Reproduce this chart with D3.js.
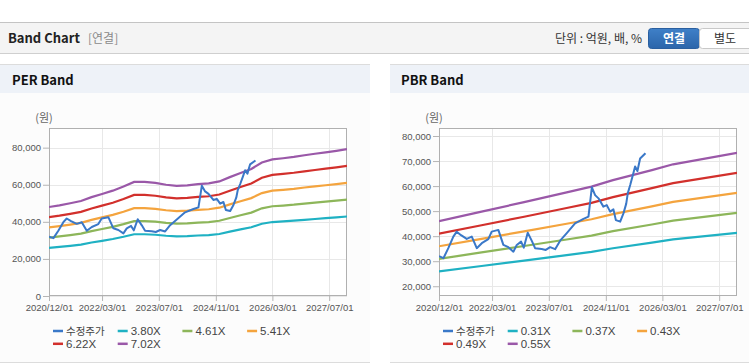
<!DOCTYPE html>
<html>
<head>
<meta charset="utf-8">
<script src="https://cdn.jsdelivr.net/npm/d3@7/dist/d3.min.js"></script>
<style>
  body { margin: 0; background: #fff; }
  svg { display: block; font-family: "Noto Sans CJK KR", "Noto Sans", sans-serif; }
</style>
</head>
<body>
<svg id="chart"></svg>
<script>
// ---- 데이터 ----
const xTickLabels = ["2020/12/01", "2022/03/01", "2023/07/01", "2024/11/01", "2026/03/01", "2027/07/01"];

// PER 밴드 (분기)
const perDates = ["2020-12-01","2021-03-01","2021-06-01","2021-09-01","2021-12-01","2022-03-01","2022-06-01","2022-09-01",
  "2022-12-01","2023-03-01","2023-06-01","2023-09-01","2023-12-01","2024-03-01","2024-06-01","2024-09-01","2024-12-01",
  "2025-03-01","2025-06-01","2025-09-01","2025-12-01","2026-03-01","2026-06-01","2026-09-01","2026-12-01","2027-03-01",
  "2027-06-01","2027-09-01","2027-12-01"];
const per380 = [25980,26470,27070,27710,28850,29770,30750,31940,33290,33290,33020,32480,32150,32320,32640,32860,33450,
  34700,35890,37080,38970,39890,40220,40600,41080,41520,41950,42380,42870];
const per461 = [31520,32110,32840,33620,35000,36120,37300,38750,40390,40390,40060,39400,39010,39200,39600,39860,40580,
  42090,43540,44980,47280,48400,48790,49250,49840,50370,50890,51420,52010];
const per541 = [36990,37690,38530,39460,41080,42390,43780,45470,47400,47400,47010,46240,45780,46010,46470,46780,47630,
  49400,51100,52790,55490,56800,57260,57800,58500,59110,59730,60350,61040];
const per622 = [42530,43330,44300,45360,47220,48730,50320,52270,54490,54490,54050,53160,52630,52890,53430,53780,54750,
  56790,58740,60690,63790,65300,65830,66450,67250,67960,68670,69370,70170];
const per702 = [48000,48900,50000,51200,53300,55000,56800,59000,61500,61500,61000,60000,59400,59700,60300,60700,61800,
  64100,66300,68500,72000,73700,74300,75000,75900,76700,77500,78300,79200];
const perNames = ["3.80X", "4.61X", "5.41X", "6.22X", "7.02X"];
const perYTicks = [0, 20000, 40000, 60000, 80000];

// PBR 밴드
const pbrDates = ["2020-12-01","2021-12-01","2022-12-01","2023-12-01","2024-07-01","2025-01-01","2025-12-01","2026-06-01","2027-12-01"];
const pbr031 = [25930,28070,30210,32410,33700,35170,37420,38720,41310];
const pbr037 = [30940,33500,36060,38680,40230,41980,44670,46210,49310];
const pbr043 = [35960,38930,41900,44950,46750,48780,51910,53710,57310];
const pbr049 = [40980,44370,47750,51230,53280,55590,59160,61200,65300];
const pbr055 = [46000,49800,53600,57500,59800,62400,66400,68700,73300];
const pbrNames = ["0.31X", "0.37X", "0.43X", "0.49X", "0.55X"];
const pbrYTicks = [20000, 30000, 40000, 50000, 60000, 70000, 80000];

// 수정주가
const priceDates = ["2020-12-01","2021-01-08","2021-02-19","2021-04-03","2021-05-02","2021-06-08","2021-07-27","2021-09-08",
  "2021-10-21","2021-12-03","2022-01-28","2022-02-26","2022-04-24","2022-06-06","2022-07-19","2022-08-31","2022-09-29",
  "2022-11-05","2022-11-28","2023-01-01","2023-02-05","2023-03-05","2023-05-01","2023-06-05","2023-07-12","2023-08-24",
  "2023-10-06","2023-12-02","2024-02-11","2024-04-23","2024-06-05","2024-07-04","2024-08-01","2024-08-30","2024-10-11",
  "2024-11-09","2024-12-08","2025-01-05","2025-01-26","2025-03-04","2025-04-01","2025-04-25","2025-05-08","2025-05-29",
  "2025-06-21","2025-07-10","2025-07-30","2025-08-22","2025-10-07"];
const priceValues = [32000,31200,35200,39800,41800,40400,38900,39800,35200,37200,38800,41800,42500,36500,35600,33800,36500,
  37800,35400,41400,38100,35200,34900,34500,35600,34800,38200,41200,45100,46900,47800,59500,56400,55100,51800,52400,49800,
  50700,46400,45800,49100,53000,57100,60400,64400,67800,66000,71000,73100];

const bandColors = ["#1fb1c3", "#8db65a", "#f4a43e", "#d2302c", "#9a58a8"];
const priceColor = "#3a78c8";

// ---- 레이아웃 ----
const width = 749, height = 364;
const parse = d3.timeParse("%Y-%m-%d");
const parseTick = d3.timeParse("%Y/%m/%d");
const latin = "'Liberation Sans', Arial, sans-serif";

const svg = d3.select("#chart").attr("width", width).attr("height", height);

// 상단 바
svg.append("line").attr("x1", 0).attr("x2", width).attr("y1", 22.5).attr("y2", 22.5).attr("stroke", "#c4c4c4");
svg.append("rect").attr("x", 0).attr("y", 23).attr("width", width).attr("height", 30).attr("fill", "#f4f4f4");
svg.append("line").attr("x1", 0).attr("x2", width).attr("y1", 53.5).attr("y2", 53.5).attr("stroke", "#cfcfcf");
svg.append("text").attr("x", 8).attr("y", 43).attr("font-size", 13).attr("font-weight", "bold").attr("fill", "#222").text("Band Chart");
svg.append("text").attr("x", 88).attr("y", 43).attr("font-size", 12).attr("fill", "#8a8a8a").text("[연결]");
svg.append("text").attr("x", 642).attr("y", 43).attr("text-anchor", "end").attr("font-size", 12).attr("fill", "#333").text("단위 : 억원, 배, %");

const grad = svg.append("defs").append("linearGradient").attr("id", "btn").attr("x1", 0).attr("x2", 0).attr("y1", 0).attr("y2", 1);
grad.append("stop").attr("offset", "0%").attr("stop-color", "#3f80c8");
grad.append("stop").attr("offset", "100%").attr("stop-color", "#2b65aa");
svg.append("rect").attr("x", 648.5).attr("y", 28.5).attr("width", 51).attr("height", 20).attr("rx", 3)
  .attr("fill", "url(#btn)").attr("stroke", "#2a5f9f");
svg.append("text").attr("x", 674).attr("y", 43).attr("text-anchor", "middle").attr("font-size", 12)
  .attr("font-weight", "bold").attr("fill", "#fff").text("연결");
svg.append("rect").attr("x", 699.5).attr("y", 28.5).attr("width", 55).attr("height", 20).attr("rx", 3)
  .attr("fill", "#fff").attr("stroke", "#c8c8c8");
svg.append("text").attr("x", 725).attr("y", 43).attr("text-anchor", "middle").attr("font-size", 12)
  .attr("fill", "#333").text("별도");

function drawPanel(cfg) {
  const left = cfg.plotLeft, right = cfg.plotLeft + 298, top = 128, bottom = 296;
  const g = svg.append("g");

  // 패널 배경
  g.append("rect").attr("x", cfg.panelX).attr("y", 64).attr("width", cfg.panelW).attr("height", 298).attr("fill", "#fcfcfc");
  g.append("rect").attr("x", cfg.panelX).attr("y", 64).attr("width", cfg.panelW).attr("height", 29).attr("fill", "#eef2f8");
  g.append("line").attr("x1", cfg.panelX).attr("x2", cfg.panelX + cfg.panelW).attr("y1", 64.5).attr("y2", 64.5).attr("stroke", "#dcdcdc");
  g.append("line").attr("x1", cfg.panelX).attr("x2", cfg.panelX + cfg.panelW).attr("y1", 362.5).attr("y2", 362.5).attr("stroke", "#dcdcdc");
  g.append("text").attr("x", cfg.panelX + cfg.titleDx).attr("y", 85).attr("font-size", 13).attr("font-weight", "bold")
    .attr("fill", "#111").text(cfg.title);
  g.append("text").attr("x", left - 5).attr("y", 122).attr("font-size", 11).attr("fill", "#666")
    .attr("text-anchor", "middle").text("(원)");

  const xScale = d3.scaleTime().domain([parse("2020-12-01"), parse("2027-12-01")]).range([left, right]);
  const yScale = d3.scaleLinear().domain(cfg.yDomain).range([bottom, top]);

  g.append("rect").attr("x", left).attr("y", top).attr("width", right - left).attr("height", bottom - top).attr("fill", "#fff");

  const tickDates = xTickLabels.map(parseTick);

  // 그리드
  g.append("g").selectAll("line").data(cfg.yTicks).enter().append("line")
    .attr("x1", left).attr("x2", right)
    .attr("y1", d => Math.round(yScale(d)) + 0.5).attr("y2", d => Math.round(yScale(d)) + 0.5)
    .attr("stroke", "#e8e8e8");
  g.append("g").selectAll("line").data(tickDates).enter().append("line")
    .attr("x1", d => Math.round(xScale(d)) + 0.5).attr("x2", d => Math.round(xScale(d)) + 0.5)
    .attr("y1", top).attr("y2", bottom)
    .attr("stroke", "#e8e8e8");

  // 축
  const yAxis = d3.axisLeft(yScale).tickValues(cfg.yTicks).tickSize(6).tickPadding(2).tickFormat(d3.format(","));
  const xAxis = d3.axisBottom(xScale).tickValues(tickDates).tickSize(5).tickPadding(3).tickFormat(d3.timeFormat("%Y/%m/%d"));

  const ya = g.append("g").attr("transform", `translate(${left},0)`).call(yAxis);
  const xa = g.append("g").attr("transform", `translate(0,${bottom})`).call(xAxis);
  [ya, xa].forEach(a => {
    a.select(".domain").remove();
    a.selectAll("line").attr("stroke", "#b5b5b5");
    a.selectAll("text").attr("fill", "#555").attr("font-size", 9.5).attr("font-family", latin);
  });

  // 테두리
  g.append("rect").attr("x", left + 0.5).attr("y", top + 0.5).attr("width", right - left - 1).attr("height", bottom - top - 1)
    .attr("fill", "none").attr("stroke", "#b0b0b0");

  // 선
  const clipId = "clip" + cfg.title.replace(" ", "");
  svg.append("clipPath").attr("id", clipId).append("rect")
    .attr("x", left).attr("y", top).attr("width", right - left).attr("height", bottom - top);
  const lines = g.append("g").attr("clip-path", `url(#${clipId})`);

  const line = d3.line().x(d => xScale(d[0])).y(d => yScale(d[1]));
  const bandDates = cfg.bandDates.map(parse);
  cfg.bands.forEach((vals, i) => {
    lines.append("path").datum(vals.map((v, j) => [bandDates[j], v]))
      .attr("d", line).attr("fill", "none").attr("stroke", bandColors[i]).attr("stroke-width", 2.2);
  });
  const pDates = priceDates.map(parse);
  lines.append("path").datum(priceValues.map((v, j) => [pDates[j], v]))
    .attr("d", line).attr("fill", "none").attr("stroke", priceColor).attr("stroke-width", 2)
    .attr("stroke-linejoin", "round");

  // 범례
  const items = [{ name: "수정주가", color: priceColor, kr: true }]
    .concat(cfg.names.map((n, i) => ({ name: n, color: bandColors[i], kr: false })));
  const leg = g.append("g").selectAll("g").data(items).enter().append("g")
    .attr("transform", (d, i) => `translate(${left + 4 + (i % 4) * 64.7},${331 + Math.floor(i / 4) * 12.8})`);
  leg.append("line").attr("x1", 0).attr("x2", 10).attr("y1", 0).attr("y2", 0)
    .attr("stroke", d => d.color).attr("stroke-width", 2.5);
  leg.append("text").attr("x", 13).attr("y", 4)
    .attr("font-size", d => d.kr ? 10.5 : 11.5)
    .attr("font-family", d => d.kr ? null : latin)
    .attr("fill", "#444").text(d => d.name);
}

drawPanel({
  title: "PER Band", panelX: 0, panelW: 370, titleDx: 12, plotLeft: 49,
  yDomain: [0, 90600], yTicks: perYTicks, bandDates: perDates,
  bands: [per380, per461, per541, per622, per702], names: perNames
});
drawPanel({
  title: "PBR Band", panelX: 390, panelW: 359, titleDx: 11, plotLeft: 439,
  yDomain: [16100, 83200], yTicks: pbrYTicks, bandDates: pbrDates,
  bands: [pbr031, pbr037, pbr043, pbr049, pbr055], names: pbrNames
});
</script>
</body>
</html>
